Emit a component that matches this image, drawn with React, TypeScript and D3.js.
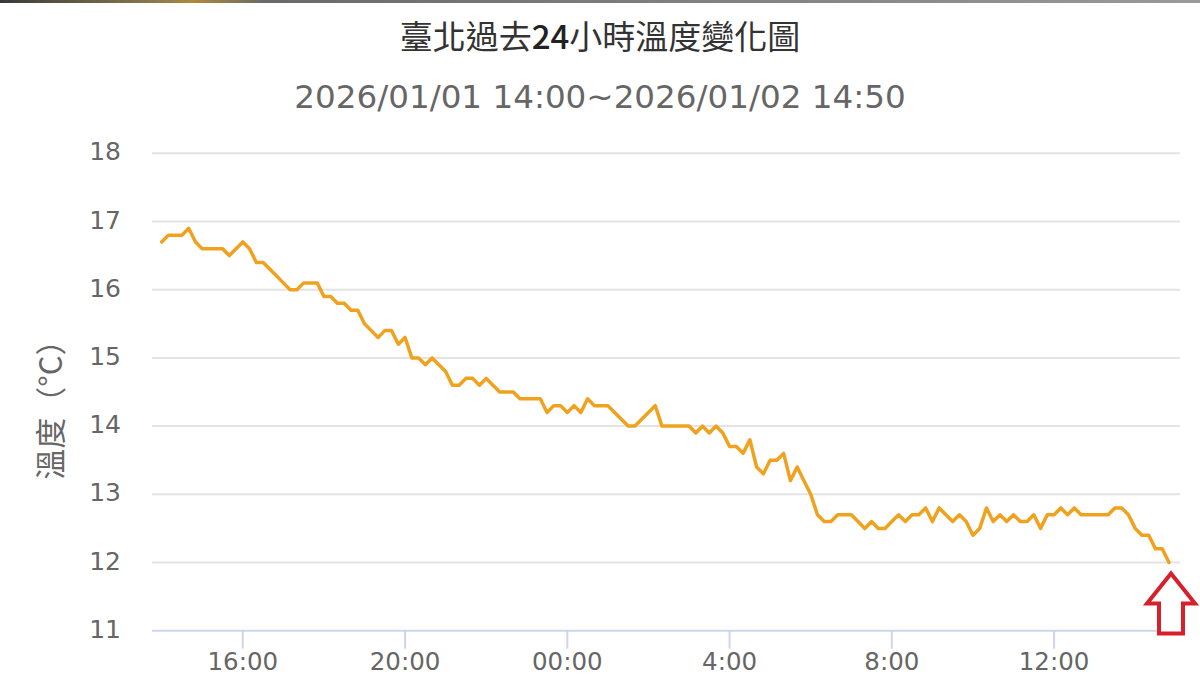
import { useEffect, useRef } from "react";
import * as d3 from "d3";

// 10-minute readings, 2026/01/01 14:00 → 2026/01/02 14:50
const temps: number[] = [
  16.7, 16.8, 16.8, 16.8, 16.9, 16.7, 16.6, 16.6, 16.6, 16.6, 16.5, 16.6, 16.7, 16.6, 16.4, 16.4,
  16.3, 16.2, 16.1, 16.0, 16.0, 16.1, 16.1, 16.1, 15.9, 15.9, 15.8, 15.8, 15.7, 15.7, 15.5, 15.4,
  15.3, 15.4, 15.4, 15.2, 15.3, 15.0, 15.0, 14.9, 15.0, 14.9, 14.8, 14.6, 14.6, 14.7, 14.7, 14.6,
  14.7, 14.6, 14.5, 14.5, 14.5, 14.4, 14.4, 14.4, 14.4, 14.2, 14.3, 14.3, 14.2, 14.3, 14.2, 14.4,
  14.3, 14.3, 14.3, 14.2, 14.1, 14.0, 14.0, 14.1, 14.2, 14.3, 14.0, 14.0, 14.0, 14.0, 14.0, 13.9,
  14.0, 13.9, 14.0, 13.9, 13.7, 13.7, 13.6, 13.8, 13.4, 13.3, 13.5, 13.5, 13.6, 13.2, 13.4, 13.2,
  13.0, 12.7, 12.6, 12.6, 12.7, 12.7, 12.7, 12.6, 12.5, 12.6, 12.5, 12.5, 12.6, 12.7, 12.6, 12.7,
  12.7, 12.8, 12.6, 12.8, 12.7, 12.6, 12.7, 12.6, 12.4, 12.5, 12.8, 12.6, 12.7, 12.6, 12.7, 12.6,
  12.6, 12.7, 12.5, 12.7, 12.7, 12.8, 12.7, 12.8, 12.7, 12.7, 12.7, 12.7, 12.7, 12.8, 12.8, 12.7,
  12.5, 12.4, 12.4, 12.2, 12.2, 12.0,
];

const startTime = new Date(2026, 0, 1, 14, 0);
const stepMinutes = 10;

const yTicks = [11, 12, 13, 14, 15, 16, 17, 18];
const xTickTimes = [
  new Date(2026, 0, 1, 16, 0),
  new Date(2026, 0, 1, 20, 0),
  new Date(2026, 0, 2, 0, 0),
  new Date(2026, 0, 2, 4, 0),
  new Date(2026, 0, 2, 8, 0),
  new Date(2026, 0, 2, 12, 0),
];
const xTickLabels = ["16:00", "20:00", "00:00", "4:00", "8:00", "12:00"];

const titleParts = ["臺北過去", "24", "小時溫度變化圖"];
const subtitle = "2026/01/01 14:00~2026/01/02 14:50";
const yTitle = "溫度（°C）";

export default function App() {
  const svgRef = useRef<SVGSVGElement>(null);

  useEffect(() => {
    const svg = d3.select(svgRef.current);
    svg.selectAll("*").remove();

    const width = 1200;
    const height = 675;
    const plot = { left: 152, right: 1180, top: 153.3, bottom: 630.7 };
    const font = "'DejaVu Sans', sans-serif";
    const cjk = "'Noto Sans CJK TC', 'DejaVu Sans', sans-serif";

    const pts = temps.map((v, i) => ({
      t: d3.timeMinute.offset(startTime, i * stepMinutes),
      v,
    }));

    const xScale = d3.scaleTime()
      .domain([pts[0].t, pts[pts.length - 1].t])
      .range([161.7, 1169]);
    const yScale = d3.scaleLinear().domain([11, 18]).range([plot.bottom, plot.top]);

    svg.append("rect").attr("width", width).attr("height", height).attr("fill", "#fff");

    // thin dark strip at the very top (screenshot edge)
    const grad = svg.append("defs").append("linearGradient").attr("id", "topbar");
    grad.append("stop").attr("offset", "0%").attr("stop-color", "#3a3a3a");
    grad.append("stop").attr("offset", "13%").attr("stop-color", "#8a7a50");
    grad.append("stop").attr("offset", "16%").attr("stop-color", "#b08a3a");
    grad.append("stop").attr("offset", "22%").attr("stop-color", "#6a6a6a");
    grad.append("stop").attr("offset", "100%").attr("stop-color", "#9a9a9a");
    svg.append("rect").attr("width", width).attr("height", 3).attr("fill", "url(#topbar)");

    // titles
    const t = svg.append("text")
      .attr("x", 600).attr("y", 49)
      .attr("text-anchor", "middle")
      .attr("font-family", cjk)
      .attr("font-size", 33)
      .attr("fill", "#333");
    t.selectAll("tspan")
      .data(titleParts)
      .join("tspan")
      .attr("font-weight", (_, i) => (i === 1 ? 500 : 400))
      .attr("fill", (_, i) => (i === 1 ? "#222" : "#333"))
      .text((d) => d);

    svg.append("text")
      .attr("x", 600).attr("y", 108)
      .attr("text-anchor", "middle")
      .attr("font-family", font)
      .attr("font-size", 32.6)
      .attr("fill", "#666")
      .text(subtitle);

    // grid lines
    svg.append("g")
      .selectAll("line")
      .data(yTicks.filter((d) => d > 11))
      .join("line")
      .attr("x1", plot.left).attr("x2", plot.right)
      .attr("y1", (d) => yScale(d)).attr("y2", (d) => yScale(d))
      .attr("stroke", "#e3e3e3")
      .attr("stroke-width", 2);

    // y tick labels
    svg.append("g")
      .selectAll("text")
      .data(yTicks)
      .join("text")
      .attr("x", 121)
      .attr("y", (d) => yScale(d) + 7)
      .attr("text-anchor", "end")
      .attr("font-family", font)
      .attr("font-size", 25)
      .attr("fill", "#666")
      .text((d) => d);

    // y axis title
    svg.append("text")
      .attr("transform", "translate(62,402) rotate(-90)")
      .attr("text-anchor", "middle")
      .attr("font-family", cjk)
      .attr("font-size", 31)
      .attr("fill", "#666")
      .text(yTitle);

    // x axis
    svg.append("line")
      .attr("x1", plot.left).attr("x2", plot.right)
      .attr("y1", plot.bottom).attr("y2", plot.bottom)
      .attr("stroke", "#ccd6eb")
      .attr("stroke-width", 2);

    const xg = svg.append("g");
    xg.selectAll("line")
      .data(xTickTimes)
      .join("line")
      .attr("x1", (d) => xScale(d)).attr("x2", (d) => xScale(d))
      .attr("y1", plot.bottom).attr("y2", plot.bottom + 18)
      .attr("stroke", "#ccd6eb")
      .attr("stroke-width", 2);
    xg.selectAll("text")
      .data(xTickTimes)
      .join("text")
      .attr("x", (d) => xScale(d))
      .attr("y", 670)
      .attr("text-anchor", "middle")
      .attr("font-family", font)
      .attr("font-size", 24.5)
      .attr("fill", "#666")
      .text((_, i) => xTickLabels[i]);

    // temperature line
    const line = d3.line<{ t: Date; v: number }>()
      .x((p) => xScale(p.t))
      .y((p) => yScale(p.v));

    svg.append("path")
      .datum(pts)
      .attr("d", line)
      .attr("fill", "none")
      .attr("stroke", "#f0a21e")
      .attr("stroke-width", 3.5)
      .attr("stroke-linejoin", "round")
      .attr("stroke-linecap", "round");

    // red arrow pointing at the latest reading
    const last = pts[pts.length - 1];
    const ax = xScale(last.t) + 2;
    const ay = yScale(last.v) + 11;
    const arrow = [
      [ax, ay],
      [ax + 24, ay + 30],
      [ax + 12, ay + 30],
      [ax + 12, ay + 60],
      [ax - 12, ay + 60],
      [ax - 12, ay + 30],
      [ax - 24, ay + 30],
    ] as [number, number][];
    svg.append("path")
      .attr("d", d3.line()(arrow) + "Z")
      .attr("fill", "#fff")
      .attr("stroke", "#d7202a")
      .attr("stroke-width", 4)
      .attr("stroke-linejoin", "miter");
  }, []);

  return (
    <svg
      ref={svgRef}
      width={1200}
      height={675}
      style={{ position: "absolute", left: 0, top: 0, display: "block" }}
    />
  );
}
